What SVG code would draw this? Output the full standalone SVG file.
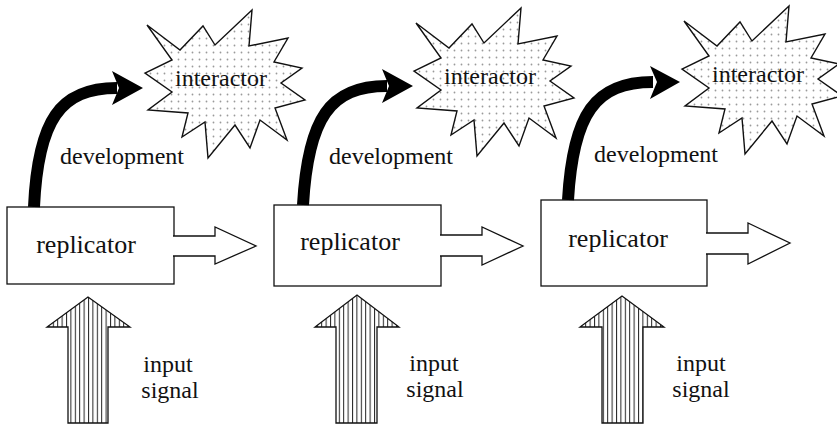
<svg xmlns="http://www.w3.org/2000/svg" xmlns:xlink="http://www.w3.org/1999/xlink" width="837" height="426" viewBox="0 0 837 426">
<defs>
<pattern id="dots" patternUnits="userSpaceOnUse" width="7" height="7">
<rect width="7" height="7" fill="#fff"/>
<circle cx="3.5" cy="3.5" r="0.9" fill="#9a9a9a"/>
</pattern>
<pattern id="stripes" patternUnits="userSpaceOnUse" width="4.4" height="10">
<rect width="4.4" height="10" fill="#fff"/>
<rect x="0" y="0" width="1" height="10" fill="#222"/>
</pattern>
<path id="star" d="M147,25 L180,50 L203,26 L215,45 L252,10 L249,46 L288,38 L274,62 L302,68 L281,83 L305,100 L275,108 L287,140 L260,120 L250,148 L235,125 L208,158 L205,122 L182,137 L188,113 L148,110 L172,92 L145,73 L172,60 Z"/>
</defs>
<style>
text{font-family:'Liberation Serif','DejaVu Serif',serif;fill:#111;text-anchor:middle}
.big{font-size:26px}
.med{font-size:24px}
.box{fill:#fff;stroke:#111;stroke-width:1.3}
.hollow{fill:#fff;stroke:#111;stroke-width:1.3;stroke-linejoin:miter}
.input{fill:url(#stripes);stroke:#111;stroke-width:1.3}
.star{fill:url(#dots);stroke:#111;stroke-width:1.4;stroke-linejoin:miter}
.dev{fill:none;stroke:#000;stroke-width:12;stroke-linecap:butt}
.head{fill:#000}
</style>
<rect width="837" height="426" fill="#fff"/>

<g id="interactor1">
<use xlink:href="#star" class="star"/>
<text class="med" font-family="Liberation Serif, serif" x="221" y="86">interactor</text>
</g>
<g id="interactor2" transform="translate(269,-2)">
<use xlink:href="#star" class="star"/>
<text class="med" font-family="Liberation Serif, serif" x="221" y="86">interactor</text>
</g>
<g id="interactor3" transform="translate(537,-4)">
<use xlink:href="#star" class="star"/>
<text class="med" font-family="Liberation Serif, serif" x="221" y="86">interactor</text>
</g>

<g id="replicator1">
<rect class="box" x="7" y="207" width="167" height="77"/>
<text class="big" font-family="Liberation Serif, serif" x="86" y="253">replicator</text>
</g>
<g id="replicator2">
<rect class="box" x="274" y="205" width="167" height="81"/>
<text class="big" font-family="Liberation Serif, serif" x="350" y="250">replicator</text>
</g>
<g id="replicator3">
<rect class="box" x="541" y="200" width="166" height="86"/>
<text class="big" font-family="Liberation Serif, serif" x="618" y="247">replicator</text>
</g>

<g id="connectors">
<path class="dev" d="M34,207 C38,120 60,88 117,88"/>
<path class="head" d="M143,88 L112,71 L119,88 L112,105 Z"/>
<path class="dev" d="M303,205 C308,118 330,86 387,86"/>
<path class="head" d="M413,86 L382,69 L389,86 L382,103 Z"/>
<path class="dev" d="M568,200 C573,114 595,82 653,82"/>
<path class="head" d="M680,82 L650,66 L657,82 L650,99 Z"/>

<path class="hollow" d="M173,236 H215 V227 L256,246 L215,264 V256 H173"/>
<path class="hollow" d="M440,235 H482 V227 L523,246 L482,265 V256 H440"/>
<path class="hollow" d="M706,233 H748 V223 L790,243 L748,264 V254 H706"/>

<path class="input" d="M68,423 V327 H47 L88,297 L130,327 H108 V423 Z"/>
<path class="input" d="M336,423 V327 H315 L357,295 L399,327 H377 V423 Z"/>
<path class="input" d="M602,423 V327 H580 L622,296 L664,327 H643 V423 Z"/>

<text class="med" font-family="Liberation Serif, serif" x="122" y="164">development</text>
<text class="med" font-family="Liberation Serif, serif" x="391" y="164">development</text>
<text class="med" font-family="Liberation Serif, serif" x="656" y="162">development</text>

<text class="med" font-family="Liberation Serif, serif" x="168" y="372">input</text>
<text class="med" font-family="Liberation Serif, serif" x="170" y="398">signal</text>
<text class="med" font-family="Liberation Serif, serif" x="434" y="371">input</text>
<text class="med" font-family="Liberation Serif, serif" x="435" y="397">signal</text>
<text class="med" font-family="Liberation Serif, serif" x="701" y="371">input</text>
<text class="med" font-family="Liberation Serif, serif" x="701" y="397">signal</text>
</g>
</svg>
